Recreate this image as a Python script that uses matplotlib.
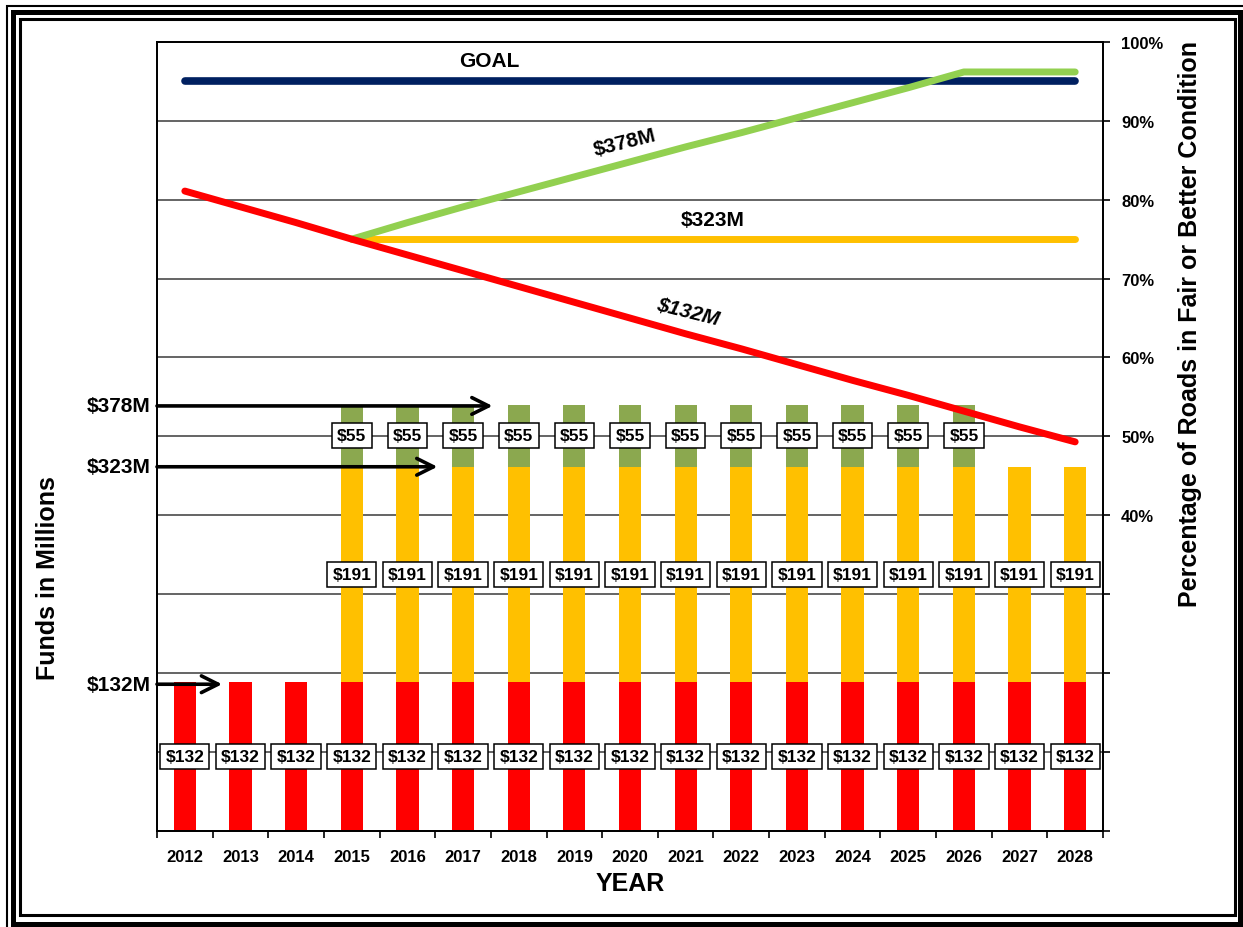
import numpy as np
import matplotlib
matplotlib.use('Agg')
from matplotlib import pyplot as plt
from matplotlib.patches import Rectangle

plt.rcParams['font.family'] = ['Liberation Sans', 'DejaVu Sans']
plt.rcParams['font.weight'] = 'bold'

# Datos del gráfico
anios = [str(a) for a in range(2012, 2029)]
fondos_132 = [132] * 17
fondos_191 = [0, 0, 0] + [191] * 14
fondos_55 = [0, 0, 0] + [55] * 12 + [0, 0]

meta = [95] * 17
pct_132 = [81.1, 79.1, 77.1, 75.0, 73.0, 71.0, 69.0, 67.0, 65.0,
           63.0, 61.1, 59.1, 57.1, 55.2, 53.2, 51.2, 49.3]
pct_323 = [None, None, None] + [75.0] * 14
pct_378 = [None, None, None, 75.0, 77.1, 79.1, 81.0, 82.9, 84.8,
           86.7, 88.5, 90.4, 92.3, 94.2, 96.2, 96.2, 96.2]

flechas = {'$378M': (5.53, 377), '$323M': (4.54, 323), '$132M': (0.67, 130)}

rojo = '#FF0000'
amarillo = '#FFC000'
oliva = '#8BA84F'
verde = '#92D050'
azul = '#002060'

W, H = 1243, 928
fig = plt.figure(figsize=(W / 100, H / 100), dpi=100)
ax = fig.add_axes([157 / W, 1 - 831.7 / H, (1103 - 157) / W, (831.7 - 43) / H])
ax2 = ax.twinx()

x = np.arange(len(anios))
ancho = 0.4

# lineas de la cuadricula (cada 10% del eje derecho)
for k in range(1, 10):
    ax.axhline(70 * k, color='#3a3a3a', lw=1.1, zorder=0)

ax.bar(x, fondos_132, ancho, color=rojo, zorder=2)
b191 = np.array(fondos_191)
b55 = np.array(fondos_55)
ax.bar(x, b191, ancho, bottom=fondos_132, color=amarillo, zorder=2)
ax.bar(x, b55, ancho, bottom=np.array(fondos_132) + b191, color=oliva, zorder=2)

caja = dict(boxstyle='square,pad=0.3', facecolor='white', edgecolor='black', lw=1.1)
for i in x:
    ax.text(i, fondos_132[i] / 2, '$' + str(fondos_132[i]), ha='center', va='center',
            fontsize=12.5, bbox=caja, zorder=4)
    if fondos_191[i] > 0:
        ax.text(i, fondos_132[i] + fondos_191[i] / 2, '$' + str(fondos_191[i]),
                ha='center', va='center', fontsize=12.5, bbox=caja, zorder=4)
    if fondos_55[i] > 0:
        ax.text(i, fondos_132[i] + fondos_191[i] + fondos_55[i] / 2, '$' + str(fondos_55[i]),
                ha='center', va='center', fontsize=12.5, bbox=caja, zorder=4)

for nombre, (xt, yv) in flechas.items():
    ax.annotate('', xy=(xt, yv), xytext=(-0.5, yv), zorder=5,
                arrowprops=dict(arrowstyle='->,head_length=0.6,head_width=0.3',
                                lw=2.6, color='black', mutation_scale=20,
                                shrinkA=0, shrinkB=0))
    ax.text(-0.62, yv, nombre, ha='right', va='center', fontsize=15, clip_on=False)

ax.set_xlim(-0.5, len(anios) - 0.5)
ax.set_ylim(0, 700)
ax.set_yticks([])
ax.set_xticks(x)
ax.set_xticklabels(anios, fontsize=12)
ax.set_xticks(np.arange(-0.5, len(anios)), minor=True)
ax.tick_params(axis='x', which='major', length=0, pad=13)
ax.tick_params(axis='x', which='minor', length=5, width=1.2)

# lineas de porcentaje
ax2.plot(x, meta, color=azul, lw=5.5, solid_capstyle='round', zorder=3)
ax2.plot(x, pct_323, color=amarillo, lw=5, solid_capstyle='round', zorder=3)
ax2.plot(x, pct_378, color=verde, lw=5, solid_capstyle='round', zorder=3)
ax2.plot(x, pct_132, color=rojo, lw=5, solid_capstyle='round', zorder=4)

ax2.text(5.47, 97.6, 'GOAL', ha='center', va='center', fontsize=15)
ax2.text(7.91, 87.3, '$378M', ha='center', va='center', fontsize=15, rotation=14)
ax2.text(9.49, 77.5, '$323M', ha='center', va='center', fontsize=15)
ax2.text(9.04, 65.8, '$132M', ha='center', va='center', fontsize=15, rotation=-14,
         style='italic')

ax2.set_ylim(0, 100)
ticks = list(range(0, 101, 10))
ax2.set_yticks(ticks)
ax2.set_yticklabels([f'{t}%' if t >= 40 else '' for t in ticks], fontsize=12)
ax2.tick_params(axis='y', length=5, width=1.2, pad=8)

for a in (ax, ax2):
    for s in a.spines.values():
        s.set_linewidth(1.3)
        s.set_color('black')

fig.text(48 / W, 1 - 578 / H, 'Funds in Millions', rotation=90, ha='center',
         va='center', fontsize=18)
fig.text(1190 / W, 1 - 324 / H, 'Percentage of Roads in Fair or Better Condition',
         rotation=90, ha='center', va='center', fontsize=18)
fig.text(630 / W, 1 - 884 / H, 'YEAR', ha='center', va='center', fontsize=18)

# marco doble alrededor de la figura
def marco(x0, y0, x1, y1, lw):
    fig.patches.append(Rectangle((x0 / W, 1 - y1 / H), (x1 - x0) / W, (y1 - y0) / H,
                                 transform=fig.transFigure, fill=False,
                                 edgecolor='black', lw=lw))

marco(7, 7, 1250, 935, 1.5)
marco(13, 13, 1240, 925, 3.6)
marco(20, 19.5, 1234.5, 915.5, 2.2)

fig.savefig('out.png', dpi=100)
